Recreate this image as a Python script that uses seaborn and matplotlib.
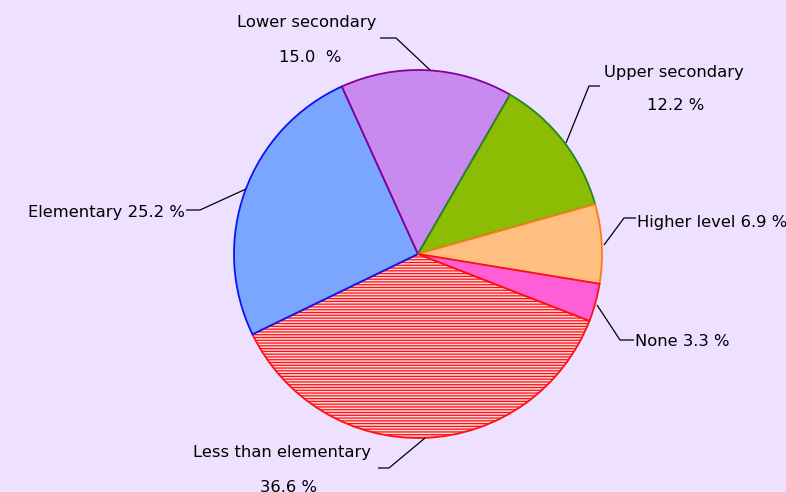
import matplotlib
matplotlib.use("Agg")
import matplotlib.pyplot as plt
import seaborn as sns

categories = ["Less than elementary", "Elementary", "Lower secondary",
              "Upper secondary", "Higher level", "None"]
values = [36.6, 25.2, 15.0, 12.2, 6.9, 3.3]
face_colors = ["#ffd6dc", "#7aa6ff", "#c88aee", "#8cbc04", "#ffbf80", "#ff5fd6"]
edge_colors = ["#ff1010", "#0a14f0", "#880099", "#1f8a1f", "#ff7a1a", "#ff1010"]
hatches = ["------", "", "", "", "", ""]

sns.set_theme(style="white")
plt.rcParams['font.family'] = ['DejaVu Sans']
plt.rcParams['hatch.linewidth'] = 0.9
plt.rcParams['text.color'] = 'black'

BG = "#eee0ff"
fig = plt.figure(figsize=(7.86, 4.92), dpi=100, facecolor=BG)
ax = fig.add_axes([0, 0, 1, 1])
ax.set_facecolor(BG)

CX, CY, R = 418, 254, 184
def P(x, y):
    return ((x - CX) / R, (CY - y) / R)

wedges, _ = ax.pie(values, startangle=-21.3, counterclock=False, radius=1.0,
                   colors=face_colors, normalize=True,
                   wedgeprops=dict(linewidth=1.3))
for w, ec, h in zip(wedges, edge_colors, hatches):
    w.set_edgecolor(ec)
    if h:
        w.set_hatch(h)

ax.set_xlim(-CX / R, (786 - CX) / R)
ax.set_ylim((CY - 492) / R, CY / R)
ax.set_aspect('auto')
ax.axis('off')

fs = 11.8
def leader(pts):
    xs, ys = zip(*[P(*p) for p in pts])
    ax.plot(xs, ys, color="black", lw=0.9, solid_capstyle='butt')

def label(x, y, s, ha):
    ax.text(*P(x, y), s, ha=ha, va="center", fontsize=fs, color="black")

# Lower secondary
leader([(380, 38), (396, 38), (430, 70)])
label(307, 23, "Lower secondary", "center")
label(310, 58, "15.0  %", "center")
# Upper secondary
leader([(600, 86), (589, 86), (566, 143)])
label(674, 72, "Upper secondary", "center")
label(676, 105, "12.2 %", "center")
# Higher level
leader([(636, 218), (624, 218), (604, 245)])
label(637, 222, "Higher level 6.9 %", "left")
# None
leader([(634, 340), (620, 340), (597, 305)])
label(635, 342, "None 3.3 %", "left")
# Elementary
leader([(186, 210), (200, 210), (246, 189)])
label(185, 213, "Elementary 25.2 %", "right")
# Less than elementary
leader([(378, 468), (389, 468), (425, 438)])
label(282, 453, "Less than elementary", "center")
label(288, 487, "36.6 %", "center")

fig.savefig("out.png", dpi=100, facecolor=BG)
